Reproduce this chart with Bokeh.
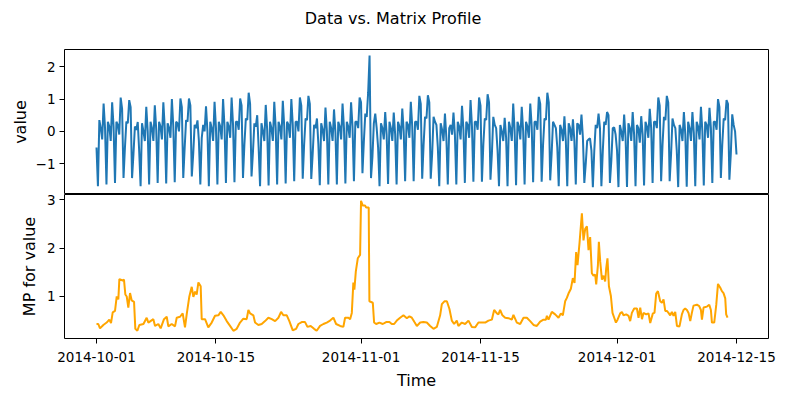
import pandas as pd
from bokeh.plotting import figure
from bokeh.layouts import column
from bokeh.models import Range1d, FixedTicker, DatetimeTickFormatter, CustomJSTickFormatter
from bokeh.core.properties import value as bk_value
from bokeh.embed import file_html
from bokeh.resources import INLINE

# ---------------- data ----------------
title_text = "Data vs. Matrix Profile"
start_date = "2014-10-01"
step_hours = 4  # one sample every 4 hours: 00, 04, 08, 12, 16, 20

# taxi "value" series, 6 samples per day, Oct 1 .. Dec 14, plus Dec 15 00:00
values = [
    -0.50, -1.70, 0.35, 0.10, -0.25, 0.86,   # Oct 1
    0.10, -1.65, 0.30, 0.15, -0.30, 0.90,
    0.15, -1.60, 0.30, 0.20, -0.10, 1.05,
    0.70, -1.45, -0.50, 0.30, 0.25, 0.97,
    0.75, -1.45, -0.70, 0.15, 0.05, 0.29,
    -0.60, -1.70, 0.25, 0.00, -0.30, 0.76,
    0.00, -1.65, 0.30, 0.10, -0.30, 0.81,
    0.05, -1.60, 0.30, 0.15, -0.25, 0.90,
    0.10, -1.62, 0.25, 0.10, -0.20, 1.00,
    0.15, -1.58, 0.30, 0.25, 0.00, 1.02,
    0.75, -1.45, -0.50, 0.35, 0.30, 1.02,   # Oct 11
    0.80, -1.40, -0.70, 0.20, 0.10, 0.34,
    -0.30, -1.65, -0.20, 0.20, 0.00, 0.78,
    0.00, -1.70, 0.30, 0.10, -0.30, 0.92,
    0.10, -1.65, 0.30, 0.15, -0.25, 1.00,
    0.15, -1.60, 0.30, 0.15, -0.20, 1.05,
    0.20, -1.58, 0.30, 0.30, 0.05, 1.02,
    0.80, -1.45, -0.40, 0.40, 0.35, 1.20,
    0.85, -1.40, -0.65, 0.25, 0.15, 0.50,
    -0.50, -1.70, 0.25, 0.00, -0.30, 0.82,
    0.05, -1.68, 0.30, 0.10, -0.30, 0.92,   # Oct 21
    0.10, -1.65, 0.30, 0.15, -0.25, 0.95,
    0.15, -1.62, 0.30, 0.20, -0.20, 1.00,
    0.20, -1.55, 0.30, 0.30, 0.00, 1.05,
    0.80, -1.47, -0.40, 0.40, 0.35, 1.10,
    0.85, -1.48, -0.70, 0.20, 0.10, 0.40,
    -0.40, -1.67, 0.25, 0.05, -0.30, 0.74,
    0.00, -1.65, 0.30, 0.10, -0.30, 0.68,
    -0.05, -1.65, 0.30, 0.15, -0.25, 0.86,
    0.10, -1.62, 0.30, 0.15, -0.20, 0.90,
    0.15, -1.55, 0.30, 0.30, 0.10, 1.05,    # Oct 31
    0.90, -1.30, -0.30, 0.55, 0.45, 1.20,   # Nov 1
    2.35, -1.45, -0.80, 0.25, 0.55, 0.10,
    -0.50, -1.70, 0.25, 0.10, -0.25, 0.60,
    -0.10, -1.63, 0.30, 0.10, -0.30, 0.58,
    -0.10, -1.65, 0.30, 0.15, -0.25, 0.71,
    0.00, -1.55, 0.30, 0.20, -0.20, 0.92,
    0.15, -1.55, 0.30, 0.30, 0.05, 1.10,
    0.85, -1.47, -0.40, 0.45, 0.40, 1.12,
    0.90, -1.47, -0.70, 0.45, 0.30, 0.20,
    -0.50, -1.70, 0.25, 0.05, -0.30, 0.55,  # Nov 10
    -0.20, -1.65, 0.10, 0.20, -0.10, 0.58,
    -0.10, -1.65, 0.30, 0.15, -0.25, 0.79,
    0.05, -1.60, 0.30, 0.20, -0.20, 0.97,
    0.15, -1.56, 0.30, 0.30, 0.05, 1.05,
    0.80, -1.56, -0.40, 0.40, 0.35, 1.15,
    0.90, -1.50, -0.70, 0.45, 0.20, 0.10,
    -0.60, -1.70, 0.20, 0.00, -0.30, 0.42,
    -0.20, -1.70, 0.30, 0.10, -0.30, 0.86,
    0.00, -1.67, 0.30, 0.15, -0.25, 0.76,
    0.00, -1.65, 0.30, 0.15, -0.20, 0.86,   # Nov 20
    0.15, -1.58, 0.30, 0.30, 0.05, 1.07,
    0.85, -1.56, -0.40, 0.40, 0.35, 1.20,
    0.90, -1.52, -0.70, 0.30, 0.20, 0.10,
    -0.50, -1.70, 0.20, 0.05, -0.30, 0.47,
    -0.30, -1.70, 0.25, 0.10, -0.30, 0.37,
    -0.30, -1.65, 0.25, 0.20, -0.10, 0.52,
    -0.20, -1.60, -1.00, -0.30, -0.25, -0.22,
    -0.60, -1.73, -0.60, 0.20, 0.10, 0.55,
    0.10, -1.70, -0.60, 0.30, 0.20, 0.60,
    0.50, -1.60, -0.90, 0.10, 0.12, -0.10,  # Nov 30
    -0.60, -1.73, 0.20, 0.00, -0.30, 0.52,  # Dec 1
    -0.20, -1.73, 0.25, 0.10, -0.30, 0.60,
    -0.10, -1.70, 0.20, 0.10, -0.35, 0.47,
    -0.10, -1.68, 0.30, 0.15, -0.20, 0.70,
    0.10, -1.60, 0.30, 0.30, 0.10, 1.05,
    0.80, -1.55, -0.40, 0.45, 0.35, 1.10,
    0.90, -1.55, -0.70, 0.40, 0.20, 0.10,
    -0.60, -1.73, 0.20, 0.05, -0.30, 0.60,
    -0.10, -1.72, 0.30, 0.10, -0.30, 0.60,
    -0.05, -1.70, 0.30, 0.15, -0.25, 0.76,  # Dec 10
    0.00, -1.68, 0.30, 0.20, -0.20, 0.73,
    0.10, -1.60, 0.30, 0.30, 0.05, 1.00,
    0.75, -1.45, -0.40, 0.40, 0.35, 0.97,
    0.85, -1.50, -0.70, 0.53, 0.20, 0.00,   # Dec 14
    -0.72,                                  # Dec 15 00:00
]

# matrix profile: (days since Oct 1, value)
mp_day = [
    0.00, 0.21, 0.41, 0.80, 1.19, 1.50, 1.70, 1.90, 2.17, 2.37, 2.56, 2.68,
    3.07, 3.22, 3.38, 3.54, 3.73, 3.93, 4.12, 4.40, 4.55, 4.79, 5.02, 5.50,
    5.88, 6.08, 6.66, 6.86, 7.25, 7.52, 7.91, 8.23, 8.42, 8.81, 9.20, 9.40,
    9.79, 10.10, 10.37, 10.57, 10.88, 11.16, 11.35, 11.55, 11.74, 11.94, 12.21, 12.33,
    12.72, 13.10, 13.50, 13.89, 14.28, 14.56, 14.87, 15.26, 15.65, 16.04, 16.43, 16.82,
    17.21, 17.60, 17.80, 18.00, 18.38, 18.58, 18.97, 19.36, 19.75, 20.14, 20.54, 20.93,
    21.32, 21.63, 21.90, 22.30, 22.60, 23.00, 23.39, 23.66, 24.05, 24.44, 24.72, 25.10,
    25.50, 25.80, 26.20, 26.59, 26.98, 27.37, 27.76, 28.08, 28.55, 28.93, 29.13, 29.52,
    29.72, 29.92, 30.10, 30.22, 30.39, 30.62, 30.89, 31.00, 31.20, 31.48, 31.60, 31.90,
    31.98, 32.38, 32.53, 32.77, 33.15, 33.55, 33.94, 34.33, 34.60, 34.88, 35.19, 35.58,
    35.97, 36.37, 36.67, 36.95, 37.26, 37.54, 37.93, 38.31, 38.71, 39.10, 39.49, 39.88,
    40.27, 40.47, 40.77, 41.06, 41.36, 41.64, 41.91, 42.22, 42.41, 42.81, 43.20, 43.59,
    43.99, 44.37, 44.76, 45.16, 45.55, 45.93, 46.33, 46.60, 46.92, 47.10, 47.30, 47.57,
    47.89, 48.28, 48.67, 48.86, 49.26, 49.65, 50.04, 50.43, 50.82, 51.21, 51.60, 51.99,
    52.38, 52.66, 52.78, 52.97, 53.36, 53.75, 54.14, 54.42, 54.65, 54.92, 55.12, 55.31,
    55.59, 55.82, 56.02, 56.21, 56.37, 56.60, 56.88, 57.07, 57.27, 57.47, 57.66, 57.85,
    58.05, 58.24, 58.44, 58.56, 58.76, 58.87, 59.03, 59.23, 59.42, 59.61, 59.73, 59.88,
    60.05, 60.28, 60.47, 60.67, 60.87, 61.06, 61.37, 61.57, 61.76, 62.08, 62.35, 62.54,
    62.74, 63.01, 63.33, 63.52, 63.72, 63.92, 64.10, 64.42, 64.69, 64.89, 65.20, 65.39,
    65.59, 65.79, 66.06, 66.26, 66.45, 66.65, 66.84, 67.03, 67.23, 67.43, 67.62, 67.82,
    68.02, 68.32, 68.60, 68.79, 68.99, 69.19, 69.38, 69.58, 69.77, 69.96, 70.36, 70.63,
    70.83, 70.95, 71.14, 71.54, 71.81, 72.00, 72.12, 72.39, 72.63, 72.83, 73.10, 73.29,
    73.48, 73.68, 73.79, 73.95,
]
mp_value = [
    0.43, 0.43, 0.34, 0.41, 0.46, 0.52, 0.45, 0.67, 0.70, 1.00, 0.94, 1.36,
    1.33, 1.35, 1.04, 1.00, 0.77, 1.07, 0.92, 0.89, 0.33, 0.29, 0.41, 0.43,
    0.56, 0.46, 0.53, 0.39, 0.43, 0.34, 0.53, 0.58, 0.38, 0.43, 0.38, 0.56,
    0.58, 0.65, 0.36, 0.63, 1.00, 1.20, 0.99, 1.10, 1.04, 1.29, 1.21, 0.53,
    0.53, 0.36, 0.46, 0.60, 0.61, 0.68, 0.61, 0.49, 0.39, 0.29, 0.33, 0.46,
    0.54, 0.53, 0.72, 0.65, 0.61, 0.46, 0.41, 0.43, 0.49, 0.56, 0.53, 0.49,
    0.56, 0.68, 0.61, 0.61, 0.49, 0.30, 0.33, 0.43, 0.47, 0.47, 0.37, 0.39,
    0.33, 0.29, 0.39, 0.43, 0.46, 0.50, 0.56, 0.43, 0.39, 0.37, 0.56, 0.56,
    0.53, 0.66, 1.29, 1.14, 1.52, 1.79, 1.86, 2.98, 2.88, 2.88, 2.84, 2.84,
    0.90, 0.87, 0.46, 0.43, 0.46, 0.43, 0.47, 0.47, 0.43, 0.43, 0.50, 0.56,
    0.61, 0.55, 0.59, 0.56, 0.47, 0.39, 0.46, 0.47, 0.46, 0.39, 0.33, 0.37,
    0.61, 0.84, 0.90, 0.90, 0.74, 0.50, 0.43, 0.50, 0.39, 0.46, 0.43, 0.50,
    0.37, 0.36, 0.46, 0.46, 0.46, 0.50, 0.52, 0.72, 0.65, 0.63, 0.72, 0.61,
    0.56, 0.55, 0.52, 0.62, 0.46, 0.43, 0.56, 0.56, 0.49, 0.41, 0.39, 0.48,
    0.52, 0.52, 0.60, 0.52, 0.68, 0.63, 0.56, 0.65, 0.61, 0.90, 0.97, 1.06,
    1.16, 1.38, 1.28, 1.92, 1.65, 2.10, 2.72, 2.16, 2.40, 2.45, 1.96, 2.23,
    1.48, 1.43, 1.45, 1.25, 1.65, 2.13, 1.72, 1.35, 1.43, 1.31, 1.58, 1.79,
    1.21, 1.01, 0.66, 0.56, 0.46, 0.52, 0.65, 0.68, 0.61, 0.63, 0.60, 0.49,
    0.66, 0.75, 0.75, 0.56, 0.77, 0.53, 0.66, 0.63, 0.65, 0.45, 0.65, 0.66,
    1.06, 1.11, 0.90, 0.87, 0.94, 0.70, 0.70, 0.66, 0.61, 0.68, 0.60, 0.68,
    0.39, 0.38, 0.63, 0.72, 0.75, 0.72, 0.66, 0.49, 0.66, 0.81, 0.83, 0.80,
    0.72, 0.52, 0.77, 0.79, 0.83, 0.72, 0.46, 0.46, 0.83, 1.26, 1.18, 1.11,
    1.07, 0.96, 0.63, 0.56,
]

x_tick_labels = ["2014-10-01", "2014-10-15", "2014-11-01",
                 "2014-11-15", "2014-12-01", "2014-12-15"]
top_y_ticks = [-1, 0, 1, 2]
bottom_y_ticks = [1, 2, 3]

# ---------------- build ----------------
start = pd.Timestamp(start_date)
t_values = [start + pd.Timedelta(hours=step_hours * i) for i in range(len(values))]
t_mp = [start + pd.Timedelta(days=d) for d in mp_day]

def ms(ts):
    return ts.value / 1e6

span_days = (t_values[-1] - start) / pd.Timedelta(days=1)
pad = 0.05 * span_days
x_range = Range1d(ms(start - pd.Timedelta(days=pad)), ms(t_values[-1] + pd.Timedelta(days=pad)))

FONT = "DejaVu Sans"

def style(p):
    p.outline_line_color = "black"
    p.outline_line_width = 1
    p.outline_line_alpha = 1
    p.grid.visible = False
    p.background_fill_color = "white"
    for ax in p.axis:
        ax.axis_line_color = None
        ax.major_tick_out = 5
        ax.major_tick_in = 0
        ax.minor_tick_out = 0
        ax.minor_tick_in = 0
        ax.major_tick_line_color = "black"
        ax.major_tick_line_width = 1
        ax.major_label_text_font = FONT
        ax.major_label_text_font_size = "13.5px"
        ax.major_label_text_color = "black"
        ax.major_label_standoff = 4
        ax.axis_label_text_font = FONT
        ax.axis_label_text_font_size = "16px"
        ax.axis_label_text_font_style = "normal"
        ax.axis_label_text_color = "black"
        ax.axis_label_standoff = 5

# title strip (its frame is aligned with the plots below: left 64, right 777)
tf = figure(width=786, height=49, x_range=Range1d(0, 1), y_range=Range1d(0, 1),
            toolbar_location=None, output_backend="svg",
            min_border_left=0, min_border_right=0, min_border_top=0, min_border_bottom=0,
            x_axis_location=None, y_axis_location=None)
tf.outline_line_color = None
tf.grid.visible = False
tf.text(x=[0.4614], y=[0.63], text=[title_text], text_align="center", text_baseline="middle",
        text_font=bk_value(FONT), text_font_size="16px", text_color="black")

minus_fmt = CustomJSTickFormatter(code="return (tick < 0 ? '\\u2212' : '') + Math.abs(tick).toString();")

# top: data
p1 = figure(width=778, height=145, x_range=x_range, y_range=Range1d(-1.96, 2.54),
            x_axis_type="datetime", x_axis_location=None,
            toolbar_location=None, output_backend="svg",
            min_border_left=64, min_border_right=10, min_border_top=0, min_border_bottom=0)
p1.line([ms(t) for t in t_values], values, line_color="#1f77b4", line_width=2)
p1.yaxis.ticker = FixedTicker(ticks=top_y_ticks)
p1.yaxis.formatter = minus_fmt
p1.yaxis.axis_label = "value"
style(p1)
p1.yaxis.axis_label_standoff = 3

# bottom: matrix profile (canvas overlaps the top plot by 8px, transparent border)
p2 = figure(width=778, height=206, x_range=x_range, y_range=Range1d(0.13, 3.11),
            x_axis_type="datetime", toolbar_location=None, output_backend="svg",
            min_border_left=64, min_border_right=10, min_border_top=8, min_border_bottom=53,
            margin=(-8, 0, 0, 0))
p2.border_fill_color = None
p2.line([ms(t) for t in t_mp], mp_value, line_color="orange", line_width=2)
p2.yaxis.ticker = FixedTicker(ticks=bottom_y_ticks)
p2.yaxis.axis_label = "MP for value"
p2.xaxis.ticker = FixedTicker(ticks=[ms(pd.Timestamp(s)) for s in x_tick_labels])
fmt = "%Y-%m-%d"
p2.xaxis.formatter = DatetimeTickFormatter(milliseconds=fmt, seconds=fmt, minsec=fmt, minutes=fmt,
                                           hourmin=fmt, hours=fmt, days=fmt, months=fmt, years=fmt)
p2.xaxis.axis_label = "Time"
style(p2)
p2.yaxis.axis_label_standoff = 5
p2.xaxis.major_label_standoff = 8
p2.xaxis.axis_label_standoff = 6

layout = column(tf, p1, p2, spacing=0)
open("out.html", "w").write(file_html(layout, INLINE))
